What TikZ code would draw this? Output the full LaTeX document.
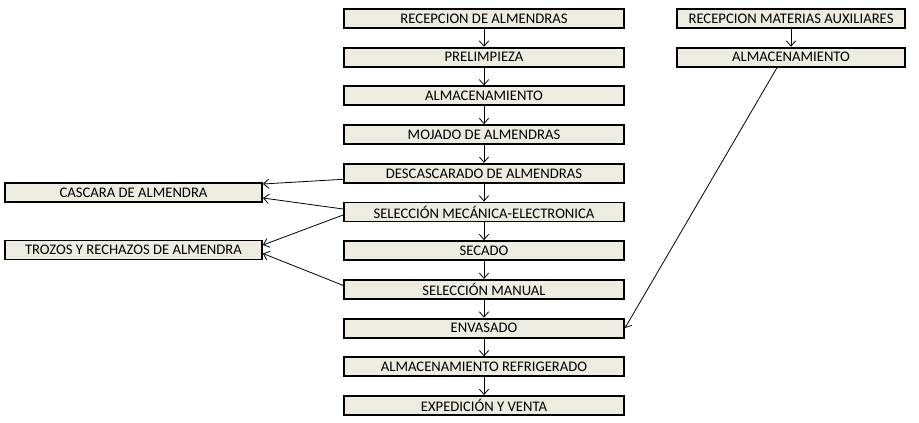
\documentclass[tikz,border=0pt]{standalone}
\usepackage{fontspec}
\setmainfont{Carlito}
\usetikzlibrary{arrows.meta,calc}
\definecolor{boxfill}{RGB}{238,236,225}

\begin{document}
\begin{tikzpicture}[x=0.75pt,y=-0.75pt,
  stage/.style={draw,line width=1.4pt,fill=boxfill,inner sep=0pt,
    minimum width=210pt,minimum height=14.25pt,font=\fontsize{11}{13}\selectfont},
  waste/.style={stage,minimum width=192.75pt},
  aux/.style={stage,minimum width=171pt},
  flow/.style={line width=0.6pt,-{Straight Barb[length=4pt,width=7pt]}}]
  \useasboundingbox (0,0) rectangle (919,423);

  %main column
  \node[stage] (rec) at (484,18.5) {RECEPCION DE ALMENDRAS};
  \node[stage] (pre) at (484,57.2) {PRELIMPIEZA};
  \node[stage] (alm) at (484,95.9) {ALMACENAMIENTO};
  \node[stage] (moj) at (484,134.6) {MOJADO DE ALMENDRAS};
  \node[stage] (desc) at (484,173.3) {DESCASCARADO DE ALMENDRAS};
  \node[stage] (mec) at (484,212) {SELECCIÓN MECÁNICA-ELECTRONICA};
  \node[stage] (sec) at (484,250.7) {SECADO};
  \node[stage] (man) at (484,289.4) {SELECCIÓN MANUAL};
  \node[stage] (env) at (484,328.1) {ENVASADO};
  \node[stage] (ref) at (484,366.8) {ALMACENAMIENTO REFRIGERADO};
  \node[stage] (exp) at (484,405.5) {EXPEDICIÓN Y VENTA};

  %side boxes
  \node[waste] (casc) at (133.5,192.5) {CASCARA DE ALMENDRA};
  \node[waste] (troz) at (133.5,250) {TROZOS Y RECHAZOS DE ALMENDRA};
  \node[aux] (raux) at (791,18.5) {RECEPCION MATERIAS AUXILIARES};
  \node[aux] (aalm) at (791,57.2) {ALMACENAMIENTO};

  %main arrows
  \draw[flow] (rec) -- (pre);
  \draw[flow] (pre) -- (alm);
  \draw[flow] (alm) -- (moj);
  \draw[flow] (moj) -- (desc);
  \draw[flow] (desc) -- (mec);
  \draw[flow] (mec) -- (sec);
  \draw[flow] (sec) -- (man);
  \draw[flow] (man) -- (env);
  \draw[flow] (env) -- (ref);
  \draw[flow] (ref) -- (exp);
  \draw[flow] (raux) -- (aalm);

  %waste arrows
  \draw[flow] ($(desc.west)+(0,6)$) -- ($(casc.east)+(0,-8.5)$);
  \draw[flow] ($(mec.west)+(0,-3)$) -- ($(casc.east)+(0,5.5)$);
  \draw[flow] ($(mec.west)+(0,3)$) -- ($(troz.east)+(0,-5)$);
  \draw[flow] ($(man.west)+(0,-4)$) -- ($(troz.east)+(0,3.5)$);

  %auxiliary arrow
  \draw[flow] ($(aalm.south)+(-14,0)$) -- (env.east);
\end{tikzpicture}
\end{document}
